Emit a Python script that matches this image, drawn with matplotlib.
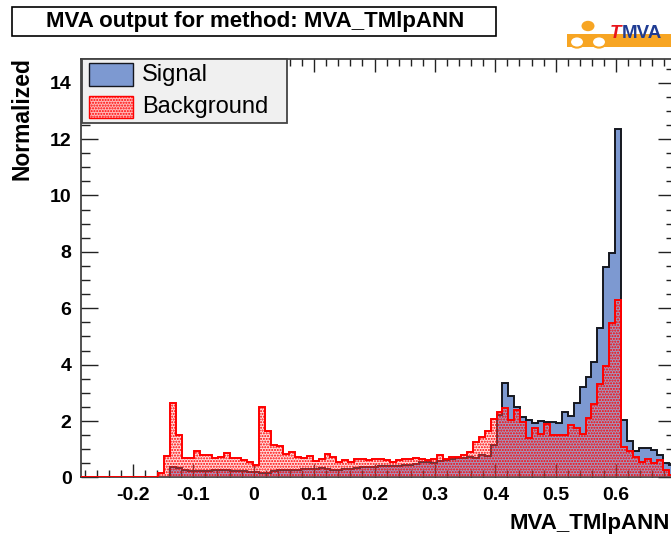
import numpy as np
import matplotlib
matplotlib.use("Agg")
import matplotlib.pyplot as plt
from matplotlib.patches import Rectangle, Circle
from matplotlib.ticker import MultipleLocator

plt.rcParams['font.family'] = ['Liberation Sans', 'DejaVu Sans']
plt.rcParams['hatch.linewidth'] = 1.0

# histogram range / binning (TMVA output histogram)
x_min = -0.2854
x_max = 0.6966
n_bins = 100

signal = [0, 0, 0, 0, 0, 0, 0, 0, 0, 0,
          0, 0, 0, 0, 0, 0.36, 0.34, 0.27, 0.24, 0.22,
          0.21, 0.24, 0.26, 0.27, 0.25, 0.23, 0.22, 0.21, 0.19, 0.18,
          0.15, 0.16, 0.24, 0.25, 0.26, 0.26, 0.28, 0.29, 0.30, 0.30,
          0.32, 0.31, 0.27, 0.28, 0.30, 0.31, 0.33, 0.36, 0.38, 0.38,
          0.40, 0.40, 0.39, 0.42, 0.44, 0.45, 0.48, 0.54, 0.56, 0.51,
          0.58, 0.62, 0.64, 0.68, 0.70, 0.74, 0.68, 0.80, 0.76, 1.15,
          2.21, 3.36, 2.90, 2.49, 2.15, 2.04, 1.94, 2.01, 1.96, 1.95,
          1.94, 2.31, 2.18, 2.65, 3.22, 3.57, 4.08, 5.29, 7.47, 7.96,
          12.35, 2.05, 1.30, 0.95, 1.03, 1.03, 0.96, 0.79, 0.51, 0.43]

background = [0, 0, 0, 0, 0, 0, 0, 0, 0, 0,
              0, 0, 0, 0.15, 0.77, 2.63, 1.50, 0.70, 0.68, 0.95,
              0.79, 0.78, 0.68, 0.72, 0.85, 0.70, 0.70, 0.62, 0.53, 0.44,
              2.51, 1.64, 1.15, 1.13, 0.82, 0.91, 0.71, 0.70, 0.76, 0.59,
              0.64, 0.82, 0.72, 0.56, 0.62, 0.56, 0.64, 0.66, 0.60, 0.64,
              0.64, 0.62, 0.55, 0.60, 0.64, 0.66, 0.68, 0.64, 0.62, 0.66,
              0.79, 0.67, 0.72, 0.71, 0.78, 0.91, 1.27, 1.44, 1.63, 2.06,
              2.32, 2.45, 2.05, 2.40, 1.95, 1.40, 1.75, 1.55, 1.90, 1.50,
              1.50, 1.50, 1.85, 1.75, 1.55, 2.10, 2.60, 3.30, 3.96, 5.49,
              6.29, 1.09, 0.95, 0.73, 0.56, 0.64, 0.52, 0.62, 0.26, 0.09]

y_max = 14.84
W, H = 671, 537


def fx(x):
    return x / W


def fy(y):
    return 1 - y / H


fig = plt.figure(figsize=(W / 100, H / 100), dpi=100)
fig.patch.set_facecolor('white')

# axes (right part runs off the picture, as in the reference)
ax = fig.add_axes([fx(81.3), fy(477.4), (674.5 - 81.3) / W, (477.4 - 59) / H])

edges = np.linspace(x_min, x_max, n_bins + 1)
ax.stairs(signal, edges, fill=True, facecolor='#7d99d1', edgecolor='none', zorder=1)
ax.stairs(signal, edges, color='#15171f', lw=1.4, zorder=2)
ax.stairs(background, edges, fill=True, facecolor=(1, 0.55, 0.55, 0.3),
          edgecolor='red', hatch='......', lw=0, zorder=3)
ax.stairs(background, edges, color='red', lw=1.4, zorder=4)

ax.set_xlim(x_min, x_max)
ax.set_ylim(0, y_max)

ax.xaxis.set_major_locator(MultipleLocator(0.1))
ax.xaxis.set_minor_locator(MultipleLocator(0.02))
ax.yaxis.set_major_locator(MultipleLocator(2))
ax.yaxis.set_minor_locator(MultipleLocator(0.5))
ax.xaxis.set_major_formatter(plt.FuncFormatter(lambda v, p: ('%g' % round(v, 2))))
ax.yaxis.set_major_formatter(plt.FuncFormatter(lambda v, p: ('%g' % v) if v < 14.5 else ''))

ax.tick_params(which='both', direction='in', top=True, right=True, width=1.0, color='#222')
ax.tick_params(axis='x', which='major', length=9.6, pad=7)
ax.tick_params(axis='x', which='minor', length=4.8)
ax.tick_params(axis='y', which='major', length=11.9, pad=7)
ax.tick_params(axis='y', which='minor', length=6.2)
for lab in ax.get_xticklabels() + ax.get_yticklabels():
    lab.set_fontweight('bold')
    lab.set_fontsize(14)
for s in ax.spines.values():
    s.set_linewidth(1.2)
    s.set_color('#333')

fig.text(fx(670), fy(524), 'MVA_TMlpANN', ha='right', va='center',
         fontsize=16, fontweight='bold')
fig.text(fx(22), fy(57), 'Normalized', rotation=90, ha='center', va='top',
         fontsize=16.5, fontweight='bold')

# title box
fig.add_artist(Rectangle((fx(12), fy(36)), (496 - 12) / W, (36 - 7.5) / H,
                         transform=fig.transFigure, facecolor='white',
                         edgecolor='black', lw=1.2))
fig.text(fx(255), fy(22), 'MVA output for method: MVA_TMlpANN', ha='center',
         va='center', fontsize=16, fontweight='bold')

# legend
fig.add_artist(Rectangle((fx(81.7), fy(122.7)), (287.3 - 81.7) / W, (122.7 - 59) / H,
                         transform=fig.transFigure, facecolor='#f0f0f0',
                         edgecolor='#444', lw=1.3, zorder=5))
fig.add_artist(Rectangle((fx(89.3), fy(85.7)), 44 / W, 22.4 / H,
                         transform=fig.transFigure, facecolor='#7d99d1',
                         edgecolor='#15171f', lw=1.0, zorder=6))
fig.add_artist(Rectangle((fx(89.3), fy(118.3)), 44 / W, 22.6 / H,
                         transform=fig.transFigure, facecolor=(1, 0.72, 0.72),
                         edgecolor='red', hatch='......', lw=1.0, zorder=6))
fig.text(fx(141.7), fy(74.5), 'Signal', ha='left', va='center', fontsize=17, zorder=7)
fig.text(fx(141.7), fy(107), 'Background', ha='left', va='center', fontsize=17, zorder=7)

# TMVA logo
fig.add_artist(Rectangle((fx(567), fy(47)), (W - 567) / W, 13 / H,
                         transform=fig.transFigure, facecolor='#f7a523',
                         edgecolor='none'))
for cx in (577, 599):
    fig.add_artist(Circle((fx(cx), fy(42)), 7 / W, transform=fig.transFigure,
                          facecolor='white', edgecolor='#f7a523', lw=1.5))
fig.add_artist(Circle((fx(588), fy(26)), 6.5 / W, transform=fig.transFigure,
                      facecolor='#f7a523', edgecolor='none'))
fig.text(fx(610), fy(34), 'T', ha='left', va='center', fontsize=13.5,
         fontweight='bold', fontstyle='italic', color='#e8141b')
fig.text(fx(622), fy(34), 'MVA', ha='left', va='center', fontsize=13.5,
         fontweight='bold', color='#1f3c93')

fig.savefig('out.png', dpi=100)
